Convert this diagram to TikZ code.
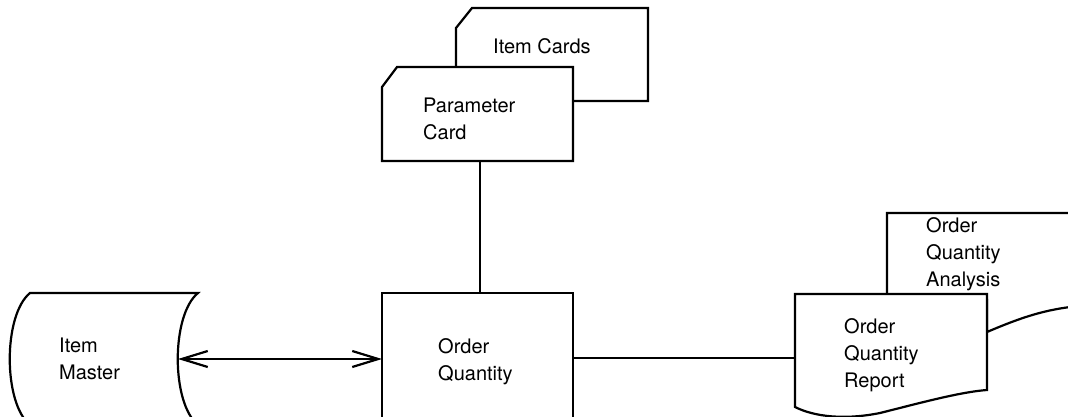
\documentclass[tikz,border=0pt]{standalone}
\usepackage{fontspec}
\setmainfont{TeX Gyre Heros}
\usetikzlibrary{arrows.meta}
\tikzset{
  ln/.style={line width=2.2pt, line join=miter},
  shp/.style={ln, fill=white},
  lbl/.style={anchor=north west, inner sep=0pt, align=left, font=\fontsize{20}{27}\selectfont},
  barb/.tip={Straight Barb[length=26pt,width=16pt,line width=2.2pt]}
}
\begin{document}
\begin{tikzpicture}[x=1pt,y=-1pt]
\useasboundingbox (0,0) rectangle (1068,417);
\fill[white] (0,0) rectangle (1068,417);
\begin{scope}
\clip (0,0) rectangle (1068,417);
% Item Cards (behind)
\draw[shp] (456,28) -- (472,8) -- (648,8) -- (648,101) -- (456,101) -- cycle;
% Parameter Card
\draw[shp] (382,87) -- (397,67) -- (573,67) -- (573,161) -- (382,161) -- cycle;
\coordinate (pcS) at (480,161);
% Item Master
\draw[shp] (30,293) -- (198,293) .. controls (171,315) and (171,403) .. (198,425)
  -- (30,425) .. controls (3,403) and (3,315) .. (30,293) -- cycle;
\coordinate (imE) at (178,359);
% Order Quantity process
\draw[shp] (382,293) rectangle (573,440);
\coordinate (oqN) at (480,293);
\coordinate (oqW) at (382,359);
\coordinate (oqE) at (573,358);
% Order Quantity Analysis (behind)
\draw[shp] (887,300) -- (887,213) -- (1080,213) -- (1080,306)
  .. controls (1045,309) and (1020,318) .. (987,332) -- (987,300) -- cycle;
% Order Quantity Report
\draw[shp] (795,294) -- (987,294) -- (987,390)
  .. controls (960,392) and (920,403) .. (880,413)
  .. controls (845,420) and (815,417) .. (795,407) -- cycle;
\coordinate (rpW) at (795,358);
\end{scope}
% labels
\node[lbl] (ic) at (493,38.5) {Item Cards};
\node[lbl] (pc) at (423,97.5) {Parameter\\Card};
\node[lbl] (im) at (59,337.5) {Item\\Master};
\node[lbl] (oq) at (438,338.5) {Order\\Quantity};
\node[lbl] (rp) at (844,318.5) {Order\\Quantity\\Report};
\node[lbl] (an) at (926,217.5) {Order\\Quantity\\Analysis};
% connectors
\draw[ln, barb-barb] (imE) -- (oqW);
\draw[ln] (pcS) -- (oqN);
\draw[ln] (oqE) -- (rpW);
\end{tikzpicture}
\end{document}
